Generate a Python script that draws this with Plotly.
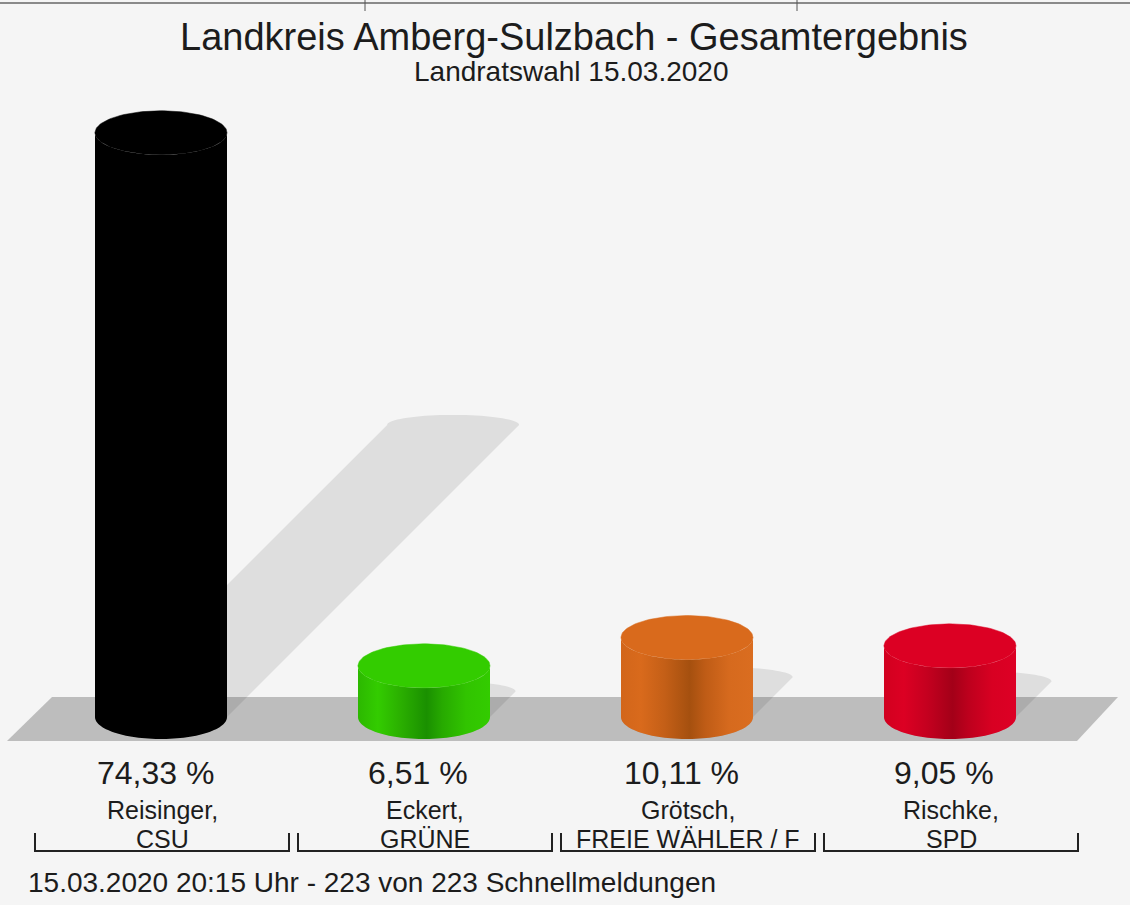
import numpy as np
import plotly.graph_objects as go

# ---------------- data ----------------
candidates = ["Reisinger,", "Eckert,", "Grötsch,", "Rischke,"]
parties = ["CSU", "GRÜNE", "FREIE WÄHLER / F", "SPD"]
values = [74.33, 6.51, 10.11, 9.05]
title_text = "Landkreis Amberg-Sulzbach - Gesamtergebnis"
subtitle_text = "Landratswahl 15.03.2020"
footer_text = "15.03.2020 20:15 Uhr - 223 von 223 Schnellmeldungen"

# ---------------- styles ----------------
top_colors = ["#000000", "#33cc00", "#d96a1c", "#dc0023"]
body_scales = [
    [[0, "#000000"], [1, "#000000"]],
    [[0, "#2cb800"], [0.15, "#33cc00"], [0.33, "#2aae00"], [0.52, "#1a9000"],
     [0.64, "#27aa00"], [0.82, "#31c400"], [1, "#33cc00"]],
    [[0, "#d2661a"], [0.15, "#d96a1c"], [0.33, "#c45f17"], [0.52, "#a5500f"],
     [0.64, "#bf5c16"], [0.82, "#d66a1e"], [1, "#da6d20"]],
    [[0, "#d2001f"], [0.15, "#dc0023"], [0.33, "#c4001f"], [0.52, "#a30018"],
     [0.64, "#bd001d"], [0.82, "#d80022"], [1, "#dd0025"]],
]
FONT = "Liberation Sans, Arial, Helvetica, sans-serif"
BG = "#f5f5f5"
TXT = "#1c1c1c"

W, H = 1130, 905
X0_PX, DX_PX = 161, 263     # pixel of first category and spacing
Y0_PX, KY = 717, 7.86       # pixel of 0 % and pixels per percent
RX = 66 / DX_PX             # cylinder radius in x units
RY = 22 / KY                # ellipse half height in y units
RYS = 10 / KY               # shadow cap half height


def px_x(p):
    return p / W


def px_y(p):
    return 1 - p / H


fig = go.Figure()

# shadows
for i, v in enumerate(values):
    cx = i
    dx = (v * KY / 2) / DX_PX
    dy = v / 2
    t_top = np.linspace(np.pi, 0, 40)
    t_bot = np.linspace(0, -np.pi, 40)
    xs = [cx - RX] + list(cx + dx + RX * np.cos(t_top)) + [cx + RX] + list(cx + RX * np.cos(t_bot))
    ys = [0] + list(dy + RYS * np.sin(t_top)) + [0] + list(RY * np.sin(t_bot))
    fig.add_trace(go.Scatter(x=xs, y=ys, fill="toself", mode="none",
                             fillcolor="rgba(0,0,0,0.09)", hoverinfo="skip", showlegend=False))

# cylinders
for i, v in enumerate(values):
    cx = i
    t_bot = np.linspace(np.pi, 2 * np.pi, 60)
    t_back = np.linspace(2 * np.pi, np.pi, 60)
    xs = [cx - RX] + list(cx + RX * np.cos(t_bot)) + [cx + RX] + list(cx + RX * np.cos(t_back))
    ys = [v] + list(RY * np.sin(t_bot)) + [v] + list(v + RY * np.sin(t_back))
    fig.add_trace(go.Scatter(x=xs, y=ys, fill="toself", mode="none",
                             fillgradient=dict(type="horizontal", colorscale=body_scales[i]),
                             hoverinfo="skip", showlegend=False))
    t = np.linspace(0, 2 * np.pi, 120)
    fig.add_trace(go.Scatter(x=cx + RX * np.cos(t), y=v + RY * np.sin(t), fill="toself",
                             mode="lines", line=dict(color=top_colors[i], width=0.5),
                             fillcolor=top_colors[i], hoverinfo="skip", showlegend=False))

shapes = []
# floor
fx = [52, 1118, 1077, 7]
fy = [697, 697, 741, 741]
path = "M " + " L ".join(f"{px_x(a):.5f},{px_y(b):.5f}" for a, b in zip(fx, fy)) + " Z"
shapes.append(dict(type="path", path=path, xref="paper", yref="paper",
                   fillcolor="#bdbdbd", line=dict(width=0), layer="below"))

# top border
shapes.append(dict(type="line", xref="paper", yref="paper", x0=0, x1=1,
                   y0=px_y(3), y1=px_y(3), line=dict(color="#8a8a8a", width=2)))
for bx in [365, 797]:
    shapes.append(dict(type="line", xref="paper", yref="paper", x0=px_x(bx), x1=px_x(bx),
                       y0=px_y(0), y1=px_y(11), line=dict(color="#555555", width=1)))

annotations = []
for i, (c, p, v) in enumerate(zip(candidates, parties, values)):
    cpx = X0_PX + DX_PX * i + 1
    annotations.append(dict(x=px_x(cpx - 7), y=px_y(773), xref="paper", yref="paper",
                            text=f"{v:.2f}".replace(".", ",") + " %", showarrow=False,
                            font=dict(family=FONT, size=32, color=TXT), xanchor="center",
                            yanchor="middle"))
    annotations.append(dict(x=px_x(cpx), y=px_y(810), xref="paper", yref="paper",
                            text=c, showarrow=False, font=dict(family=FONT, size=25, color=TXT),
                            xanchor="center", yanchor="middle"))
    annotations.append(dict(x=px_x(cpx), y=px_y(839), xref="paper", yref="paper",
                            text=p, showarrow=False, font=dict(family=FONT, size=25, color=TXT),
                            xanchor="center", yanchor="middle"))
    l, r = cpx - 127, cpx + 127
    bpath = (f"M {px_x(l):.5f},{px_y(833):.5f} L {px_x(l):.5f},{px_y(851):.5f} "
             f"L {px_x(r):.5f},{px_y(851):.5f} L {px_x(r):.5f},{px_y(833):.5f}")
    shapes.append(dict(type="path", path=bpath, xref="paper", yref="paper",
                       line=dict(color="#222222", width=2)))

annotations.append(dict(x=px_x(574), y=px_y(37), xref="paper", yref="paper", text=title_text,
                        showarrow=False, font=dict(family=FONT, size=38, color=TXT),
                        xanchor="center", yanchor="middle"))
annotations.append(dict(x=px_x(571), y=px_y(72), xref="paper", yref="paper", text=subtitle_text,
                        showarrow=False, font=dict(family=FONT, size=28, color=TXT),
                        xanchor="center", yanchor="middle"))
annotations.append(dict(x=px_x(26), y=px_y(882), xref="paper", yref="paper", text=footer_text,
                        showarrow=False, font=dict(family=FONT, size=28, color=TXT),
                        xanchor="left", yanchor="middle"))

fig.update_layout(
    width=W, height=H, autosize=False,
    margin=dict(l=0, r=0, t=0, b=0, pad=0),
    paper_bgcolor=BG, plot_bgcolor=BG,
    xaxis=dict(range=[-X0_PX / DX_PX, (W - X0_PX) / DX_PX], visible=False, fixedrange=True),
    yaxis=dict(range=[(Y0_PX - H) / KY, Y0_PX / KY], visible=False, fixedrange=True),
    shapes=shapes, annotations=annotations, showlegend=False,
)

fig.write_html("out.html", config={"displayModeBar": False},
               post_script="document.body.style.margin='0';document.body.style.overflow='hidden';")
